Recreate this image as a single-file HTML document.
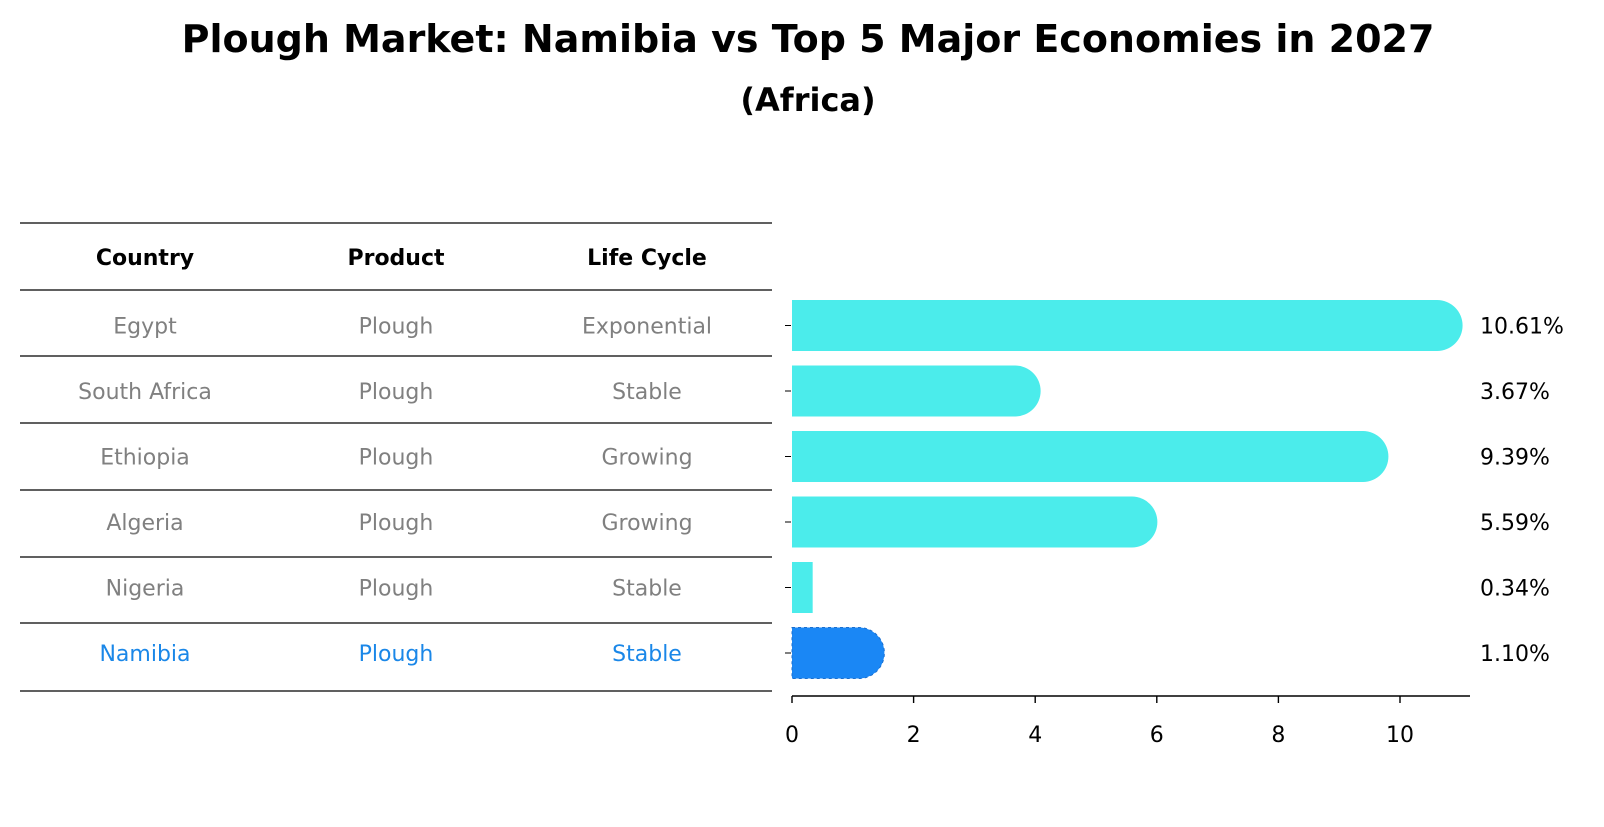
<!DOCTYPE html>
<html><head><meta charset="utf-8">
<style>
body{margin:0;background:#fff;width:1604px;height:823px;overflow:hidden;font-family:"DejaVu Sans","Liberation Sans",sans-serif;}
</style></head>
<body>
<svg width="1604" height="823" xmlns="http://www.w3.org/2000/svg" font-family="DejaVu Sans, Liberation Sans, sans-serif">
<text x="808" y="52" text-anchor="middle" font-size="38" font-weight="bold">Plough Market: Namibia vs Top 5 Major Economies in 2027</text>
<text x="808" y="111" text-anchor="middle" font-size="32" font-weight="bold">(Africa)</text>
<g id="table"></g>
<g id="bars"></g>
</svg>
<script>
const countries=["Egypt","South Africa","Ethiopia","Algeria","Nigeria","Namibia"];
const products=["Plough","Plough","Plough","Plough","Plough","Plough"];
const lifeCycles=["Exponential","Stable","Growing","Growing","Stable","Stable"];
const values=[10.61,3.67,9.39,5.59,0.34,1.10];
const xTicks=[0,2,4,6,8,10];
const NS="http://www.w3.org/2000/svg";
function mk(tag,attrs,parent){const e=document.createElementNS(NS,tag);for(const k in attrs)e.setAttribute(k,attrs[k]);parent.appendChild(e);return e;}
const table=document.getElementById('table'),bars=document.getElementById('bars');
const colX=[145,396,647];
const lineY=[223,290,356,423,490,557,623,691];
lineY.forEach(y=>{const l=mk('line',{x1:20,x2:772,y1:y,y2:y,stroke:'#000','stroke-width':1.2},table);

});
["Country","Product","Life Cycle"].forEach((h,i)=>{const t=mk('text',{x:colX[i],y:265,'text-anchor':'middle','font-size':22,'font-weight':'bold'},table);t.textContent=h;

});
const x0=792,unit=60.8;
function xs(v){return x0+v*unit;}
function rowY(i){return 325.5+i*65.5;}
countries.forEach((c,i)=>{
  const col=i===countries.length-1?'#1a87e8':'#808080';
  [c,products[i],lifeCycles[i]].forEach((s,j)=>{const t=mk('text',{x:colX[j],y:rowY(i)+8,'text-anchor':'middle','font-size':22,fill:col},table);t.textContent=s;
  
  });
  const v=values[i],h=51,yc=rowY(i),fill=i===countries.length-1?'#1a87f5':'#4beceb';
  const xe=xs(v),r=h/2;
  let d;
  if(v>0.5) d=`M${x0},${yc-r} H${xe} A${r},${r} 0 0 1 ${xe},${yc+r} H${x0} Z`;
  else d=`M${x0},${yc-r} H${xe} V${yc+r} H${x0} Z`;
  const p=mk('path',{d:d,fill:fill},bars);
  if(i===countries.length-1){p.setAttribute('stroke','#1a6fd0');p.setAttribute('stroke-dasharray','3,3');p.setAttribute('stroke-width','1');}
  
  
  const lt=mk('text',{x:1480,y:yc+8,'font-size':22},bars);lt.textContent=v.toFixed(2)+'%';
  
  
  const tk=mk('line',{x1:785,x2:791,y1:yc,y2:yc,stroke:'#000'},bars);
  
  
});
const ax=mk('line',{x1:x0,x2:1470,y1:696,y2:696,stroke:'#000','stroke-width':1.4},bars);


xTicks.forEach(t=>{const l=mk('line',{x1:xs(t),x2:xs(t),y1:696,y2:703,stroke:'#000','stroke-width':1.4},bars);


const tx=mk('text',{x:xs(t),y:742,'text-anchor':'middle','font-size':22},bars);tx.textContent=t;

});
</script>
</body></html>
